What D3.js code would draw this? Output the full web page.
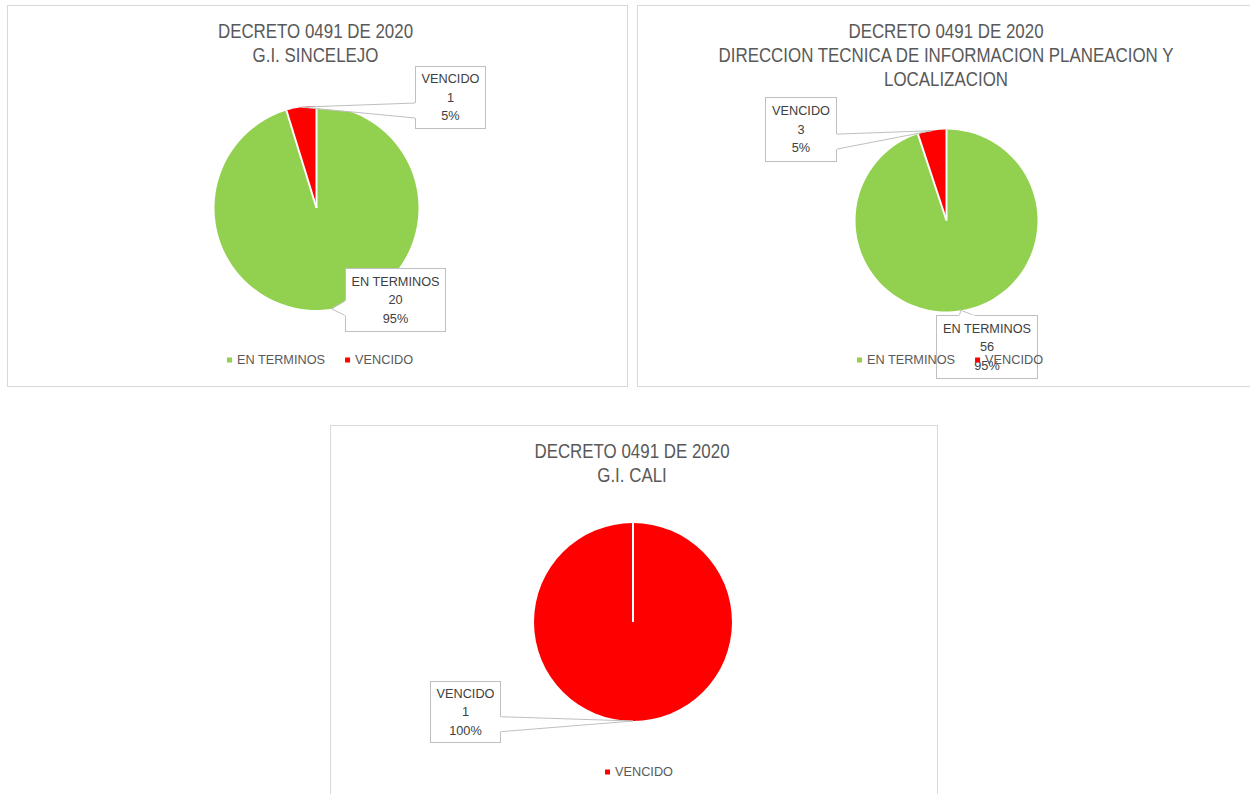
<!DOCTYPE html>
<html>
<head>
<meta charset="utf-8">
<script src="https://cdn.jsdelivr.net/npm/d3@7"></script>
<style>
  body { margin: 0; background: #fff; }
  svg { display: block; font-family: "Liberation Sans", Arial, sans-serif; }
</style>
</head>
<body>
<script>
// data
const categories = ["EN TERMINOS", "VENCIDO"];
const categoryColors = ["#92d050", "#ff0000"];
const titleTop = "DECRETO 0491 DE 2020";

const sincelejoTitle = [titleTop, "G.I. SINCELEJO"];
const sincelejoValues = [20, 1];

const direccionTitle = [titleTop, "DIRECCION TECNICA DE INFORMACION PLANEACION Y", "LOCALIZACION"];
const direccionValues = [56, 3];

const caliTitle = [titleTop, "G.I. CALI"];
const caliCategories = ["VENCIDO"];
const caliValues = [1];

// layout of each chart box (positions only)
const charts = [
    {
        title: sincelejoTitle, cats: categories, values: sincelejoValues,
        frame: { x: 7.5, y: 5.5, w: 620, h: 381 },
        pie: { cx: 316.5, cy: 208, r: 102 },
        textX: 315.5, legendX: 320, legendY: 364,
        labels: [
            { x: 345.5, y: 268.5, w: 100, h: 63, at: 0.63 },
            { x: 415.5, y: 66.5, w: 70, h: 62, at: 0.71 }
        ]
    },
    {
        title: direccionTitle, cats: categories, values: direccionValues,
        frame: { x: 637.5, y: 5.5, w: 620, h: 381 },
        pie: { cx: 946.5, cy: 220.5, r: 91 },
        textX: 946, legendX: 950, legendY: 364,
        labels: [
            { x: 936.5, y: 315.5, w: 101, h: 63, at: 0.3 },
            { x: 765.5, y: 97.5, w: 71, h: 64, at: 0.69 }
        ]
    },
    {
        title: caliTitle, cats: caliCategories, values: caliValues,
        frame: { x: 330.5, y: 425.5, w: 607, h: 400 },
        pie: { cx: 633, cy: 622, r: 99 },
        textX: 632, legendX: 639, legendY: 776,
        labels: [
            { x: 430.5, y: 681.5, w: 70, h: 61, at: 0.70 }
        ]
    }
];

const color = d3.scaleOrdinal().domain(categories).range(categoryColors);
const pct = d3.format(".0%");

const svg = d3.select("body").append("svg")
    .attr("width", 1250)
    .attr("height", 794);

// stretch or squeeze a text to k times its natural width
function stretch(sel, k) {
    sel.each(function () {
        const n = this.getComputedTextLength();
        d3.select(this).attr("textLength", n * k).attr("lengthAdjust", "spacingAndGlyphs");
    });
}

charts.forEach(c => {
    const g = svg.append("g");

    // chart border
    g.append("rect")
        .attr("x", c.frame.x).attr("y", c.frame.y)
        .attr("width", c.frame.w).attr("height", c.frame.h)
        .style("fill", "#fff")
        .style("stroke", "#d9d9d9");

    // title
    g.selectAll(".title")
        .data(c.title)
        .join("text")
        .attr("class", "title")
        .attr("x", c.textX)
        .attr("y", (d, i) => c.frame.y + 32.2 + i * 24)
        .attr("text-anchor", "middle")
        .style("font-size", "21px")
        .style("fill", "#595959")
        .text(d => d)
        .call(stretch, 0.805);

    // pie
    const data = c.cats.map((cat, i) => ({ cat, value: c.values[i] }));
    const total = d3.sum(c.values);
    const arcs = d3.pie().sort(null).value(d => d.value)(data);
    const arc = d3.arc().innerRadius(0).outerRadius(c.pie.r);
    const pieG = g.append("g").attr("transform", `translate(${c.pie.cx},${c.pie.cy})`);

    pieG.selectAll("path")
        .data(arcs)
        .join("path")
        .attr("d", arc)
        .style("fill", d => color(d.data.cat));

    // white separators at each slice start
    pieG.selectAll("line")
        .data(arcs)
        .join("line")
        .attr("x1", 0).attr("y1", 0)
        .attr("x2", d => c.pie.r * Math.sin(d.startAngle))
        .attr("y2", d => -c.pie.r * Math.cos(d.startAngle))
        .style("stroke", "#fff")
        .style("stroke-width", 2);

    // data callouts
    arcs.forEach((a, i) => {
        const box = c.labels[i];
        const mid = (a.startAngle + a.endAngle) / 2;
        const tip = [c.pie.cx + c.pie.r * Math.sin(mid), c.pie.cy - c.pie.r * Math.cos(mid)];
        const hw = 7.5;
        let b1, b2;
        if (tip[0] < box.x) {
            const yy = box.y + box.h * box.at;
            b1 = [box.x, yy - hw]; b2 = [box.x, yy + hw];
        } else if (tip[0] > box.x + box.w) {
            const yy = box.y + box.h * box.at;
            b1 = [box.x + box.w, yy - hw]; b2 = [box.x + box.w, yy + hw];
        } else if (tip[1] < box.y) {
            const xx = box.x + box.w * box.at;
            b1 = [xx - hw, box.y]; b2 = [xx + hw, box.y];
        } else {
            const xx = box.x + box.w * box.at;
            b1 = [xx - hw, box.y + box.h]; b2 = [xx + hw, box.y + box.h];
        }

        const lab = g.append("g");
        lab.append("rect")
            .attr("x", box.x).attr("y", box.y)
            .attr("width", box.w).attr("height", box.h)
            .style("fill", "#fff")
            .style("stroke", "#bfbfbf");
        lab.append("path")
            .attr("d", d3.line()([b1, tip, b2]))
            .style("fill", "#fff")
            .style("stroke", "#bfbfbf");
        lab.append("line")
            .attr("x1", b1[0]).attr("y1", b1[1])
            .attr("x2", b2[0]).attr("y2", b2[1])
            .style("stroke", "#fff")
            .style("stroke-width", 1.5);

        const lines = [a.data.cat, a.data.value, pct(a.data.value / total)];
        lab.selectAll("text")
            .data(lines)
            .join("text")
            .attr("x", box.x + box.w / 2)
            .attr("y", (d, j) => box.y + box.h / 2 - 14.5 + j * 18.7)
            .attr("text-anchor", "middle")
            .style("font-size", "12px")
            .style("fill", "#404040")
            .text(d => d)
            .call(stretch, 1.06);
    });

    // legend
    const leg = g.append("g");
    const items = leg.selectAll("g")
        .data(c.cats)
        .join("g");
    items.append("rect")
        .attr("width", 5).attr("height", 5)
        .attr("y", c.legendY - 6.5)
        .style("fill", d => color(d));
    items.append("text")
        .attr("x", 10)
        .attr("y", c.legendY)
        .style("font-size", "12px")
        .style("fill", "#595959")
        .text(d => d)
        .call(stretch, 1.06);

    let x = 0;
    const offsets = [];
    items.each(function () {
        offsets.push(x);
        x += 10 + d3.select(this).select("text").node().getComputedTextLength() + 20;
    });
    const totalW = x - 20;
    items.attr("transform", (d, i) => `translate(${c.legendX - totalW / 2 + offsets[i]},0)`);
});
</script>
</body>
</html>
